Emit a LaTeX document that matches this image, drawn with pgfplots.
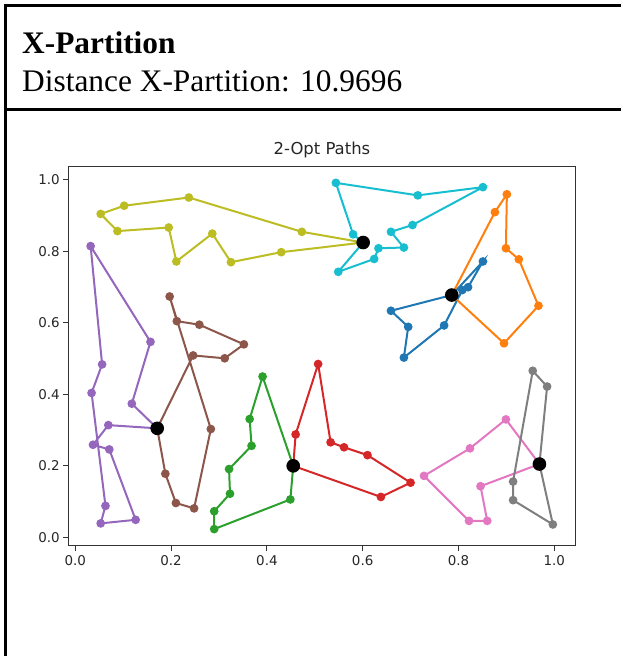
\documentclass[border=0pt]{standalone}
\usepackage{fontspec}
\usepackage{pgfplots}
\pgfplotsset{compat=1.18}
\setmainfont{Liberation Serif}
\newfontfamily\djv{DejaVu Sans}
\definecolor{tabblue}{HTML}{1F77B4}
\definecolor{taborange}{HTML}{FF7F0E}
\definecolor{tabgreen}{HTML}{2CA02C}
\definecolor{tabred}{HTML}{D62728}
\definecolor{tabpurple}{HTML}{9467BD}
\definecolor{tabbrown}{HTML}{8C564B}
\definecolor{tabpink}{HTML}{E377C2}
\definecolor{tabgray}{HTML}{7F7F7F}
\definecolor{tabolive}{HTML}{BCBD22}
\definecolor{tabcyan}{HTML}{17BECF}
\begin{document}
\begin{tikzpicture}
\useasboundingbox (0bp,0bp) rectangle (621bp,-656bp);
\draw[line width=2.5bp] (621bp,-5.5bp) -- (5.5bp,-5.5bp) -- (5.5bp,-656bp);
\draw[line width=2.5bp] (5.5bp,-109.5bp) -- (621bp,-109.5bp);
\node[anchor=base west, inner sep=0pt, font=\fontsize{31.5}{34}\selectfont\bfseries] at (22bp,-53bp) {X-Partition};
\node[anchor=base west, inner sep=0pt, font=\fontsize{31.5}{34}\selectfont] at (22bp,-91bp) {Distance X-Partition: 10.9696};
\begin{axis}[
  at={(68.3bp,-545.6bp)}, anchor=south west,
  scale only axis, width=507.3bp, height=378.9bp,
  xmin=-0.0146, xmax=1.0445, ymin=-0.0232, ymax=1.0372,
  xtick={0,0.2,0.4,0.6,0.8,1}, ytick={0,0.2,0.4,0.6,0.8,1},
  xticklabels={0.0,0.2,0.4,0.6,0.8,1.0},
  yticklabels={0.0,0.2,0.4,0.6,0.8,1.0},
  xtick pos=bottom, ytick pos=left,
  tick align=outside, major tick length=5bp,
  tick style={black!80, line width=1bp},
  axis line style={black!80, line width=1.1bp},
  ticklabel style={font=\djv\fontsize{13.5}{15}\selectfont, text=black!85},
  xticklabel style={yshift=-1bp},
  title={2-Opt Paths},
  title style={font=\djv\fontsize{16.5}{18}\selectfont, text=black!85, yshift=-1bp},
  every axis plot/.append style={line width=2bp, mark=*, mark size=3.3bp, mark options={solid}},
  clip=false,
]
\addplot[tabblue] coordinates {(0.786,0.678) (0.659,0.634) (0.695,0.589) (0.686,0.503) (0.770,0.593) (0.808,0.692) (0.820,0.700) (0.851,0.772) (0.786,0.678)};
\addplot[taborange] coordinates {(0.786,0.678) (0.876,0.910) (0.901,0.960) (0.899,0.809) (0.926,0.778) (0.967,0.648) (0.895,0.543) (0.786,0.678)};
\addplot[tabgreen] coordinates {(0.455,0.200) (0.391,0.450) (0.364,0.331) (0.368,0.256) (0.321,0.191) (0.323,0.122) (0.290,0.073) (0.290,0.023) (0.449,0.106) (0.455,0.200)};
\addplot[tabred] coordinates {(0.455,0.200) (0.460,0.288) (0.507,0.485) (0.533,0.266) (0.561,0.252) (0.610,0.230) (0.700,0.153) (0.638,0.113) (0.455,0.200)};
\addplot[tabpurple] coordinates {(0.171,0.305) (0.069,0.314) (0.037,0.259) (0.071,0.246) (0.126,0.049) (0.053,0.039) (0.063,0.088) (0.034,0.404) (0.056,0.484) (0.032,0.815) (0.157,0.547) (0.118,0.374) (0.171,0.305)};
\addplot[tabbrown] coordinates {(0.171,0.305) (0.246,0.509) (0.312,0.501) (0.352,0.540) (0.259,0.595) (0.212,0.605) (0.197,0.674) (0.283,0.303) (0.248,0.081) (0.210,0.096) (0.188,0.178) (0.171,0.305)};
\addplot[tabpink] coordinates {(0.969,0.205) (0.899,0.330) (0.824,0.249) (0.728,0.172) (0.822,0.046) (0.860,0.046) (0.846,0.143) (0.969,0.205)};
\addplot[tabgray] coordinates {(0.969,0.205) (0.985,0.422) (0.955,0.466) (0.914,0.156) (0.914,0.104) (0.997,0.036) (0.969,0.205)};
\addplot[tabolive] coordinates {(0.601,0.825) (0.473,0.855) (0.237,0.951) (0.102,0.928) (0.053,0.905) (0.088,0.857) (0.195,0.867) (0.211,0.772) (0.286,0.850) (0.325,0.770) (0.430,0.798) (0.601,0.825)};
\addplot[tabcyan] coordinates {(0.601,0.825) (0.580,0.848) (0.544,0.992) (0.715,0.957) (0.851,0.980) (0.704,0.874) (0.659,0.855) (0.686,0.811) (0.633,0.809) (0.624,0.779) (0.549,0.743) (0.601,0.825)};
\addplot[black, only marks, mark size=5.8bp] coordinates {(0.786,0.678) (0.455,0.200) (0.171,0.305) (0.969,0.205) (0.601,0.825)};
\end{axis}
\end{tikzpicture}
\end{document}
